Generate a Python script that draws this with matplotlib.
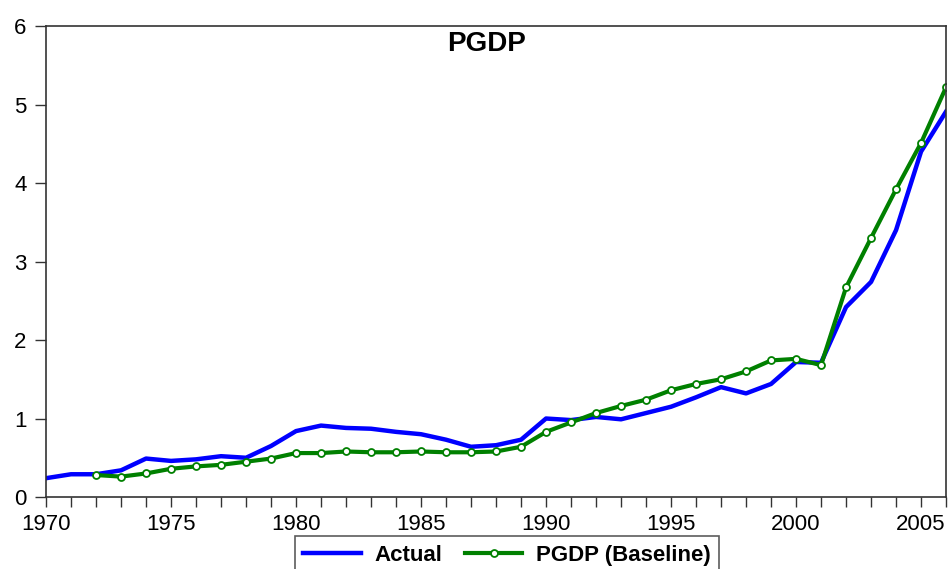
import numpy as np
import matplotlib
matplotlib.use('Agg')
import matplotlib.pyplot as plt
from matplotlib.ticker import MultipleLocator

plt.rcParams['font.family'] = ['Liberation Sans', 'DejaVu Sans']

# actual series, 1970-2006
years_actual = list(range(1970, 2007))
actual = [0.24, 0.29, 0.29, 0.34, 0.49, 0.46, 0.48, 0.52, 0.50, 0.65,
          0.84, 0.91, 0.88, 0.87, 0.83, 0.80, 0.73, 0.64, 0.66, 0.73,
          1.00, 0.98, 1.02, 0.99, 1.07, 1.15, 1.27, 1.40, 1.32, 1.44,
          1.72, 1.71, 2.42, 2.74, 3.40, 4.40, 4.91]

# baseline simulation, 1972-2006
years_base = list(range(1972, 2007))
baseline = [0.28, 0.26, 0.30, 0.36, 0.39, 0.41, 0.45, 0.49,
            0.56, 0.56, 0.58, 0.57, 0.57, 0.58, 0.57, 0.57, 0.58, 0.64,
            0.83, 0.95, 1.07, 1.16, 1.24, 1.36, 1.44, 1.50, 1.60, 1.74,
            1.76, 1.68, 2.67, 3.30, 3.92, 4.51, 5.22]

fig = plt.figure(figsize=(9.53, 5.69), dpi=100)
ax = fig.add_axes([0.0483, 0.1265, 0.9444, 0.8278])

ax.plot(years_actual, actual, color='#0000ff', lw=3.2, label='Actual')
ax.plot(years_base, baseline, color='#008000', lw=3.0, marker='o',
        markersize=5, markerfacecolor='white', markeredgecolor='#008000',
        markeredgewidth=1.3, label='PGDP (Baseline)')

ax.set_xlim(1970, 2006)
ax.set_ylim(0, 6)
ax.xaxis.set_major_locator(MultipleLocator(5))
ax.xaxis.set_minor_locator(MultipleLocator(1))
ax.yaxis.set_major_locator(MultipleLocator(1))
ax.tick_params(axis='x', which='both', direction='out', length=7, width=1,
               labelsize=16, pad=5, color='#333333')
ax.tick_params(axis='y', direction='out', length=8, width=1,
               labelsize=16, pad=6, color='#333333')
for sp in ax.spines.values():
    sp.set_linewidth(1.2)
    sp.set_color('#333333')

ax.text(0.49, 0.99, 'PGDP', transform=ax.transAxes, ha='center', va='top',
        fontsize=20, fontweight='bold')

leg = fig.legend(loc='upper center', bbox_to_anchor=(0.532, 1 - 536 / 569),
                 borderaxespad=0, ncol=2, frameon=True, fancybox=False,
                 handlelength=2.6, columnspacing=1.0, handletextpad=0.6,
                 borderpad=0.4, prop={'size': 16, 'weight': 'bold'})
leg.get_frame().set_edgecolor('#333333')
leg.get_frame().set_linewidth(1.2)

fig.savefig('out.png', dpi=100)
